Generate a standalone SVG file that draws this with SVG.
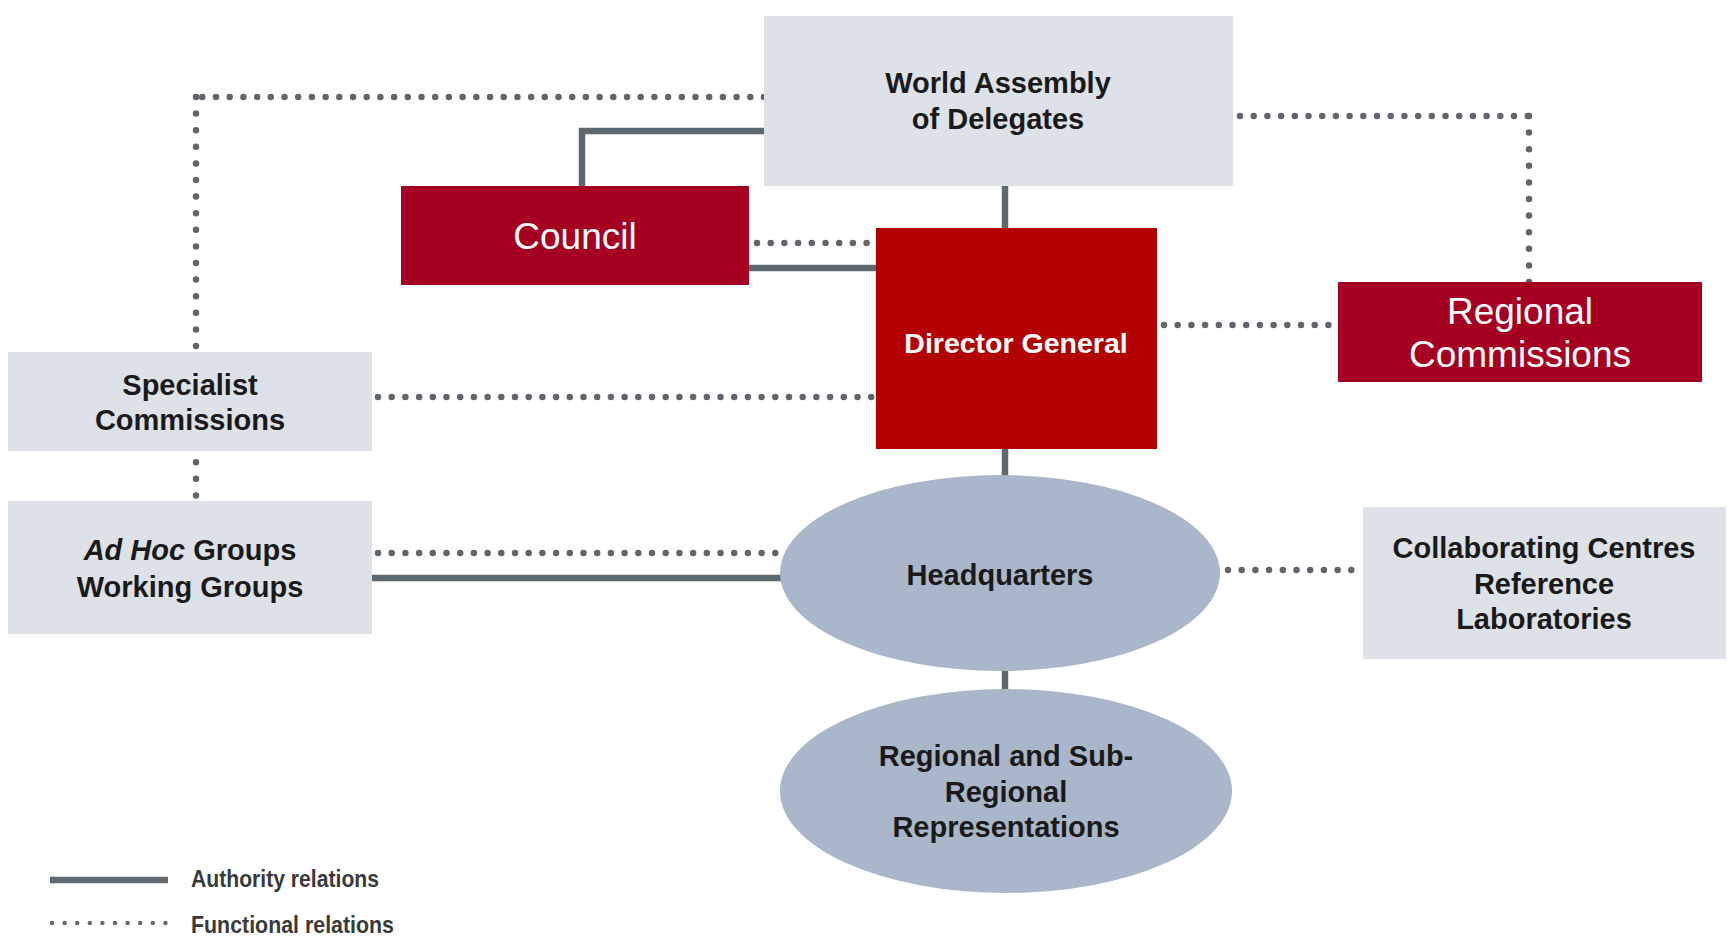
<svg xmlns="http://www.w3.org/2000/svg" width="1732" height="939" viewBox="0 0 1732 939">
<style>
.box{fill:#dde1e8}
.red{fill:#a50021}
.dg{fill:#b30000}
.ell{fill:#aab6c9}
.solid{stroke:#5f6970;stroke-width:6.5;fill:none}
.dot{stroke:#60666b;stroke-width:6.5;stroke-linecap:round;fill:none;stroke-dasharray:0 13.7}
.dotv{stroke:#60666b;stroke-width:6.5;stroke-linecap:round;fill:none;stroke-dasharray:0 16.6}
.t{font-family:"Liberation Sans",Arial,sans-serif;font-weight:bold;font-size:29px;fill:#1a1a1a;text-anchor:middle}
.w{font-family:"Liberation Sans",Arial,sans-serif;font-size:37px;fill:#ffffff;text-anchor:middle}
.wb{font-family:"Liberation Sans",Arial,sans-serif;font-weight:bold;font-size:28.5px;fill:#ffffff;text-anchor:middle}
.lg{font-family:"Liberation Sans",Arial,sans-serif;font-weight:bold;font-size:24px;fill:#3a3a3a}
</style>
<rect width="1732" height="939" fill="#ffffff"/>
<g id="connectors">
  <path class="solid" d="M764 131 H582 V186"/>
  <path class="solid" d="M1005 186 V228"/>
  <path class="solid" d="M1005 448 V476"/>
  <path class="solid" d="M1005 670 V690"/>
  <path class="solid" d="M749 268 H876"/>
  <path class="solid" d="M371 578 H800"/>
  <path class="dot" d="M757 243 H876"/>
  <path class="dot" d="M764 97 H196"/>
  <path class="dotv" d="M196 97 V501"/>
  <path class="dot" d="M378 397 H876"/>
  <path class="dot" d="M378 553 H800"/>
  <path class="dot" d="M1240 116 H1529"/>
  <path class="dotv" d="M1529 116 V282"/>
  <path class="dot" d="M1164 325 H1338"/>
  <path class="dot" d="M1228 570 H1363"/>
</g>
<g id="world-assembly">
  <rect class="box" x="764" y="16" width="469" height="170"/>
  <text class="t" x="998" y="93">World Assembly</text>
  <text class="t" x="998" y="129">of Delegates</text>
</g>
<g id="council">
  <rect class="red" x="401" y="186" width="348" height="99"/>
  <text class="w" x="575" y="249">Council</text>
</g>
<g id="director-general">
  <rect class="dg" x="876" y="228" width="281" height="221"/>
  <text class="wb" x="1016" y="353">Director General</text>
</g>
<g id="regional-commissions">
  <rect class="red" x="1338" y="282" width="364" height="100"/>
  <text class="w" x="1520" y="324">Regional</text>
  <text class="w" x="1520" y="367">Commissions</text>
</g>
<g id="specialist-commissions">
  <rect class="box" x="8" y="352" width="364" height="99"/>
  <text class="t" x="190" y="395">Specialist</text>
  <text class="t" x="190" y="430">Commissions</text>
</g>
<g id="ad-hoc-groups">
  <rect class="box" x="8" y="501" width="364" height="133"/>
  <text class="t" x="190" y="560"><tspan font-style="italic">Ad Hoc</tspan> Groups</text>
  <text class="t" x="190" y="597">Working Groups</text>
</g>
<g id="headquarters">
  <ellipse class="ell" cx="1000" cy="573" rx="220" ry="98"/>
  <text class="t" x="1000" y="585">Headquarters</text>
</g>
<g id="regional-representations">
  <ellipse class="ell" cx="1006" cy="791" rx="226" ry="102"/>
  <text class="t" x="1006" y="766">Regional and Sub-</text>
  <text class="t" x="1006" y="802">Regional</text>
  <text class="t" x="1006" y="837">Representations</text>
</g>
<g id="collaborating-centres">
  <rect class="box" x="1363" y="507" width="363" height="152"/>
  <text class="t" x="1544" y="558">Collaborating Centres</text>
  <text class="t" x="1544" y="594">Reference</text>
  <text class="t" x="1544" y="629">Laboratories</text>
</g>
<g id="legend">
  <path class="solid" d="M50 880 H168"/>
  <path d="M52 923 H166" stroke="#666b70" stroke-width="4.5" stroke-linecap="round" stroke-dasharray="0 12.6" fill="none"/>
  <text class="lg" x="191" y="887" textLength="188" lengthAdjust="spacingAndGlyphs">Authority relations</text>
  <text class="lg" x="191" y="933" textLength="203" lengthAdjust="spacingAndGlyphs">Functional relations</text>
</g>
</svg>
